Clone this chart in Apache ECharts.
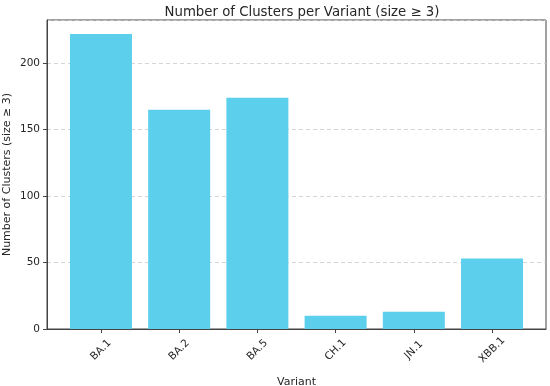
<!DOCTYPE html>
<html><head><meta charset="utf-8">
<script src="https://cdn.jsdelivr.net/npm/echarts@6/dist/echarts.min.js"></script>
<style>html,body{margin:0;padding:0;background:#fff}#c{width:550px;height:386px}</style>
</head><body><div id="c"></div>
<script>
const categories = ['BA.1', 'BA.2', 'BA.5', 'CH.1', 'JN.1', 'XBB.1'];
const clusterCounts = [222, 165, 174, 10, 13, 53];
const yTicks = [0, 50, 100, 150, 200];

const chart = echarts.init(document.getElementById('c'), null, {renderer: 'canvas'});
const font = 'DejaVu Sans';
const txt = '#262626';
chart.setOption({
  animation: false,
  backgroundColor: '#fff',
  title: {
    text: 'Number of Clusters per Variant (size \u2265 3)',
    left: 297, top: 1, textAlign: 'center',
    textStyle: {fontFamily: font, fontSize: 13.3, fontWeight: 'normal', color: txt}
  },
  grid: {left: 47, right: 4, top: 20, bottom: 57, outerBoundsMode: 'none', containLabel: false,
    show: true, borderColor: '#444', borderWidth: 1},
  xAxis: {
    type: 'value', min: -0.69, max: 5.69,
    name: 'Variant', nameLocation: 'middle', nameGap: 48, nameMoveOverlap: false,
    nameTextStyle: {fontFamily: font, fontSize: 11, color: txt},
    axisLine: {show: true, onZero: false, lineStyle: {color: '#444'}},
    axisTick: {show: true, customValues: categories.map((c, i) => i), length: 4, lineStyle: {color: '#444'}},
    axisLabel: {customValues: categories.map((c, i) => i), formatter: v => categories[Math.round(v)],
      rotate: 45, align: 'center', verticalAlign: 'middle',
      fontFamily: font, fontSize: 10.5, color: txt, margin: 21},
    splitLine: {show: false}
  },
  yAxis: {
    type: 'value', min: 0, max: 232.6, interval: 50,
    name: 'Number of Clusters (size \u2265 3)', nameLocation: 'middle', nameGap: 34, nameMoveOverlap: false,
    nameTextStyle: {fontFamily: font, fontSize: 11, color: txt},
    axisLine: {show: true, onZero: false, lineStyle: {color: '#444'}},
    axisTick: {show: true, length: 4, lineStyle: {color: '#444'}},
    axisLabel: {showMaxLabel: false, fontFamily: font, fontSize: 10.5, color: txt, margin: 7},
    splitLine: {show: true, lineStyle: {color: '#cccccc', type: [4, 3], width: 0.8}}
  },
  series: [{
    type: 'bar',
    data: clusterCounts.map((v, i) => [i, v]),
    barWidth: 62,
    itemStyle: {color: '#5bcfec'}
  }]
});
</script></body></html>
